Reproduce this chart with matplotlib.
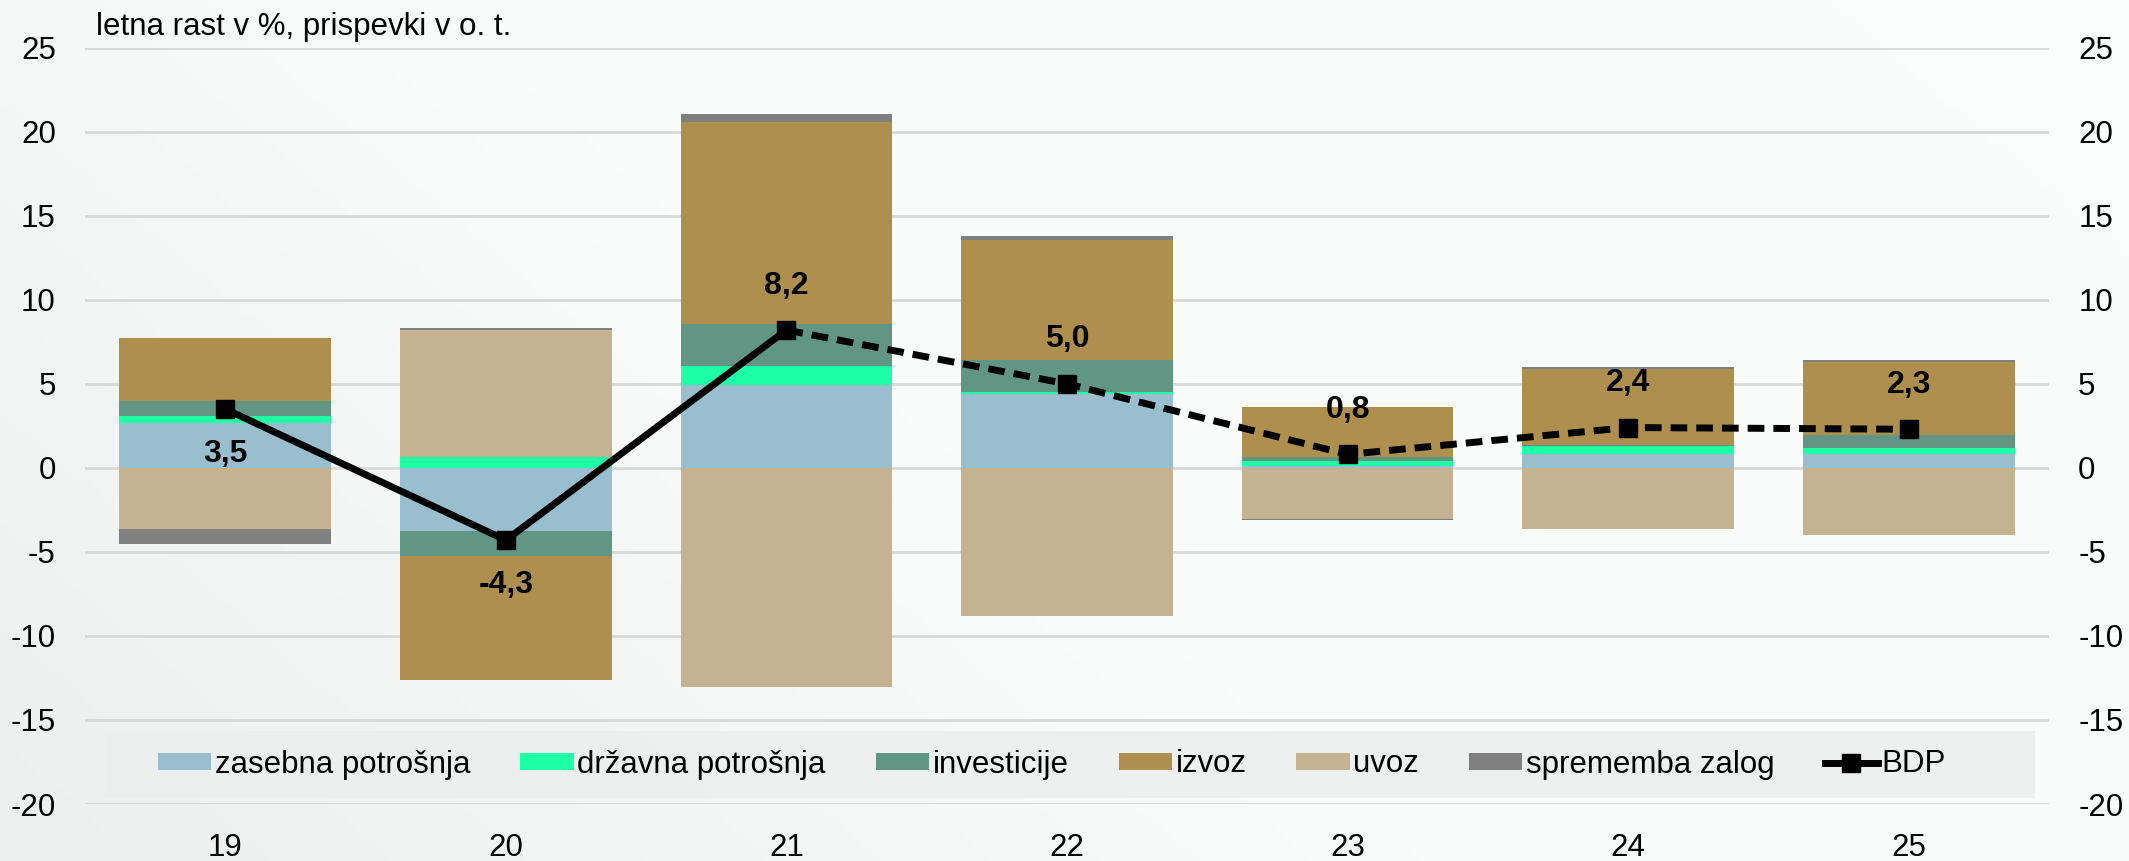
import matplotlib.pyplot as plt
import numpy as np
from matplotlib.lines import Line2D
from matplotlib.patches import Rectangle
from matplotlib.colors import LinearSegmentedColormap

plt.rcParams['font.family'] = ['Liberation Sans', 'DejaVu Sans']
plt.rcParams['axes.unicode_minus'] = False

years = ['19', '20', '21', '22', '23', '24', '25']
series_names = ['zasebna potrošnja', 'državna potrošnja', 'investicije',
                'izvoz', 'uvoz', 'sprememba zalog']
zasebna = [2.69, -3.78, 4.93, 4.41, 0.14, 0.81, 0.81]
drzavna = [0.39, 0.66, 1.11, 0.12, 0.28, 0.50, 0.36]
investicije = [0.88, -1.46, 2.52, 1.89, 0.25, 0.03, 0.77]
izvoz = [3.79, -7.40, 12.01, 7.14, 2.94, 4.56, 4.33]
uvoz = [-3.64, 7.54, -13.02, -8.84, -3.04, -3.63, -3.99]
zaloge = [-0.87, 0.11, 0.49, 0.24, -0.09, 0.13, 0.12]
bdp = [3.5, -4.3, 8.2, 5.0, 0.8, 2.4, 2.3]
label_below = [True, True, False, False, False, False, False]

colors = ['#99BFCF', '#1EFFA6', '#619684', '#AF8F4E', '#C5B291', '#808080']
fs = 22.5

fig = plt.figure(figsize=(21.29, 8.61), dpi=100, facecolor='#F5F7F6')

# soft diagonal background gradient
bg = fig.add_axes([0, 0, 1, 1], zorder=-10)
gx, gy = np.meshgrid(np.linspace(0, 1, 300), np.linspace(0, 1, 120))
grad = np.clip(0.75 * gx + 0.35 * (1 - gy), 0, 1)
cmap = LinearSegmentedColormap.from_list('bgc', ['#EDF0EF', '#FAFBFB', '#FBFCFC'])
bg.imshow(grad, cmap=cmap, aspect='auto', extent=[0, 1, 0, 1], origin='upper')
bg.axis('off')

ax = fig.add_axes([85 / 2129, 1 - 804 / 861, (2049 - 85) / 2129, (804 - 47.7) / 861])
ax.set_facecolor('none')

x = np.arange(len(years))
pos_base = np.zeros(len(years))
neg_base = np.zeros(len(years))
for vals, col, name in zip([zasebna, drzavna, investicije, izvoz, uvoz, zaloge], colors, series_names):
    vals = np.array(vals)
    bottoms = np.where(vals >= 0, pos_base, neg_base)
    ax.bar(x, vals, 0.755, bottom=bottoms, color=col, label=name, zorder=2, linewidth=0)
    pos_base += np.where(vals >= 0, vals, 0)
    neg_base += np.where(vals < 0, vals, 0)

# BDP line: solid for realised years, dashed for forecast
ax.plot(x[:3], bdp[:3], color='black', lw=5, zorder=4)
ax.plot(x[2:], bdp[2:], color='black', lw=5, ls=(0, (2.4, 1.3)), zorder=4)
ax.plot(x, bdp, ls='none', marker='s', ms=13.5, color='black', zorder=5)

for xi, v, below in zip(x, bdp, label_below):
    off = -2.65 if below else 2.65
    ax.text(xi, v + off, f'{v:.1f}'.replace('.', ','), ha='center', va='center',
            fontsize=23, fontweight='bold', zorder=6)

ax.set_xlim(-0.5, 6.5)
ax.set_ylim(-20, 25)
ax.set_yticks(range(-20, 26, 5))
ax.set_xticks(x)
ax.set_xticklabels(years)
ax.grid(axis='y', color='#D9D9D9', lw=2, zorder=0)
ax.tick_params(axis='both', length=0, labelsize=fs, pad=21)
for s in ax.spines.values():
    s.set_visible(False)

ax2 = ax.twinx()
ax2.set_ylim(-20, 25)
ax2.set_yticks(range(-20, 26, 5))
ax2.tick_params(axis='y', length=0, labelsize=fs, pad=21)
for s in ax2.spines.values():
    s.set_visible(False)

fig.text(96 / 2129, 1 - 35 / 861, 'letna rast v %, prispevki v o. t.', fontsize=fs,
         va='baseline', ha='left')

# legend background
fig.patches.append(Rectangle((105 / 2129, 1 - 797.7 / 861), (2035 - 105) / 2129, 66.7 / 861,
                             transform=fig.transFigure, facecolor='#ECEFEE', edgecolor='none',
                             alpha=0.85, zorder=1))
handles, labels = ax.get_legend_handles_labels()
handles.append(Line2D([], [], color='black', lw=5, marker='s', ms=13.5))
labels.append('BDP')
fig.legend(handles, labels, loc='center left', bbox_to_anchor=(158 / 2129, 1 - 764.5 / 861),
           ncol=7, frameon=False, fontsize=fs, handlelength=1.7, handleheight=0.5,
           handletextpad=0.12, columnspacing=1.6, borderaxespad=0, borderpad=0)

fig.savefig('out.png', dpi=100, facecolor=fig.get_facecolor())
